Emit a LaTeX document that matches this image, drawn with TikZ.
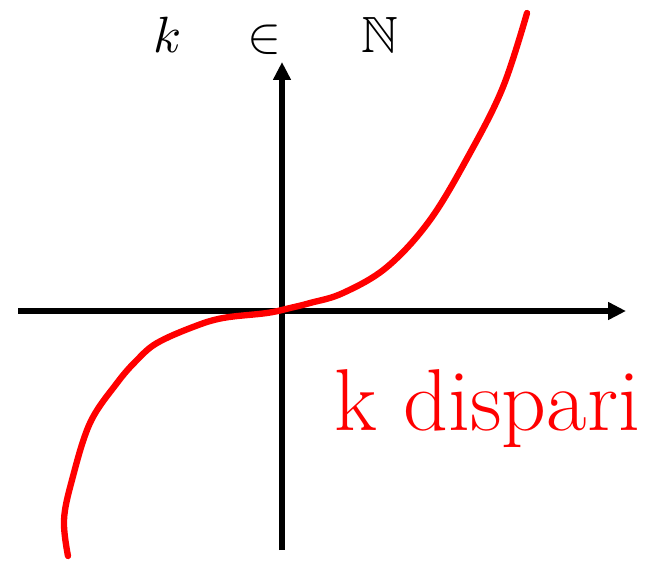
\documentclass[tikz,border=0pt]{standalone}
\usepackage{amsmath,amssymb}
\usetikzlibrary{arrows.meta, positioning}

\begin{document}
\begin{tikzpicture}[x=0.02cm, y=-0.02cm,
    axis/.style={line width=3.4pt, -{Triangle[length=0.36cm, width=0.34cm]}},
    graph/.style={line width=3.6pt, red, line cap=round, line join=round},
    label/.style={inner sep=0pt}
]
    \useasboundingbox (0,0) rectangle (648,561);

    \coordinate (xl) at (18,311);
    \coordinate (xr) at (626,311);
    \coordinate (yb) at (282,550);
    \coordinate (yt) at (282,62);

    \draw[axis] (xl) -- (xr);
    \draw[axis] (yb) -- (yt);

    % cubica
    \draw[graph] plot[smooth, tension=0.6] coordinates {
        (68,556) (64,520) (72,480) (90,423) (117,383) (137,360) (157,343)
        (193,327) (223,318) (267,313) (290,308) (310,303) (343,293)
        (387,267) (430,220) (470,153) (503,87) (527,13)};

    \node[label, anchor=base] (set) at (276,52)
        {\scalebox{2.9}{$k\hspace{10pt}\in\hspace{13pt}\mathbb{N}$}};
    \node[label, anchor=base west, red, font=\fontsize{50}{50}\selectfont]
        (odd) at (334,430) {k dispari};
\end{tikzpicture}
\end{document}
